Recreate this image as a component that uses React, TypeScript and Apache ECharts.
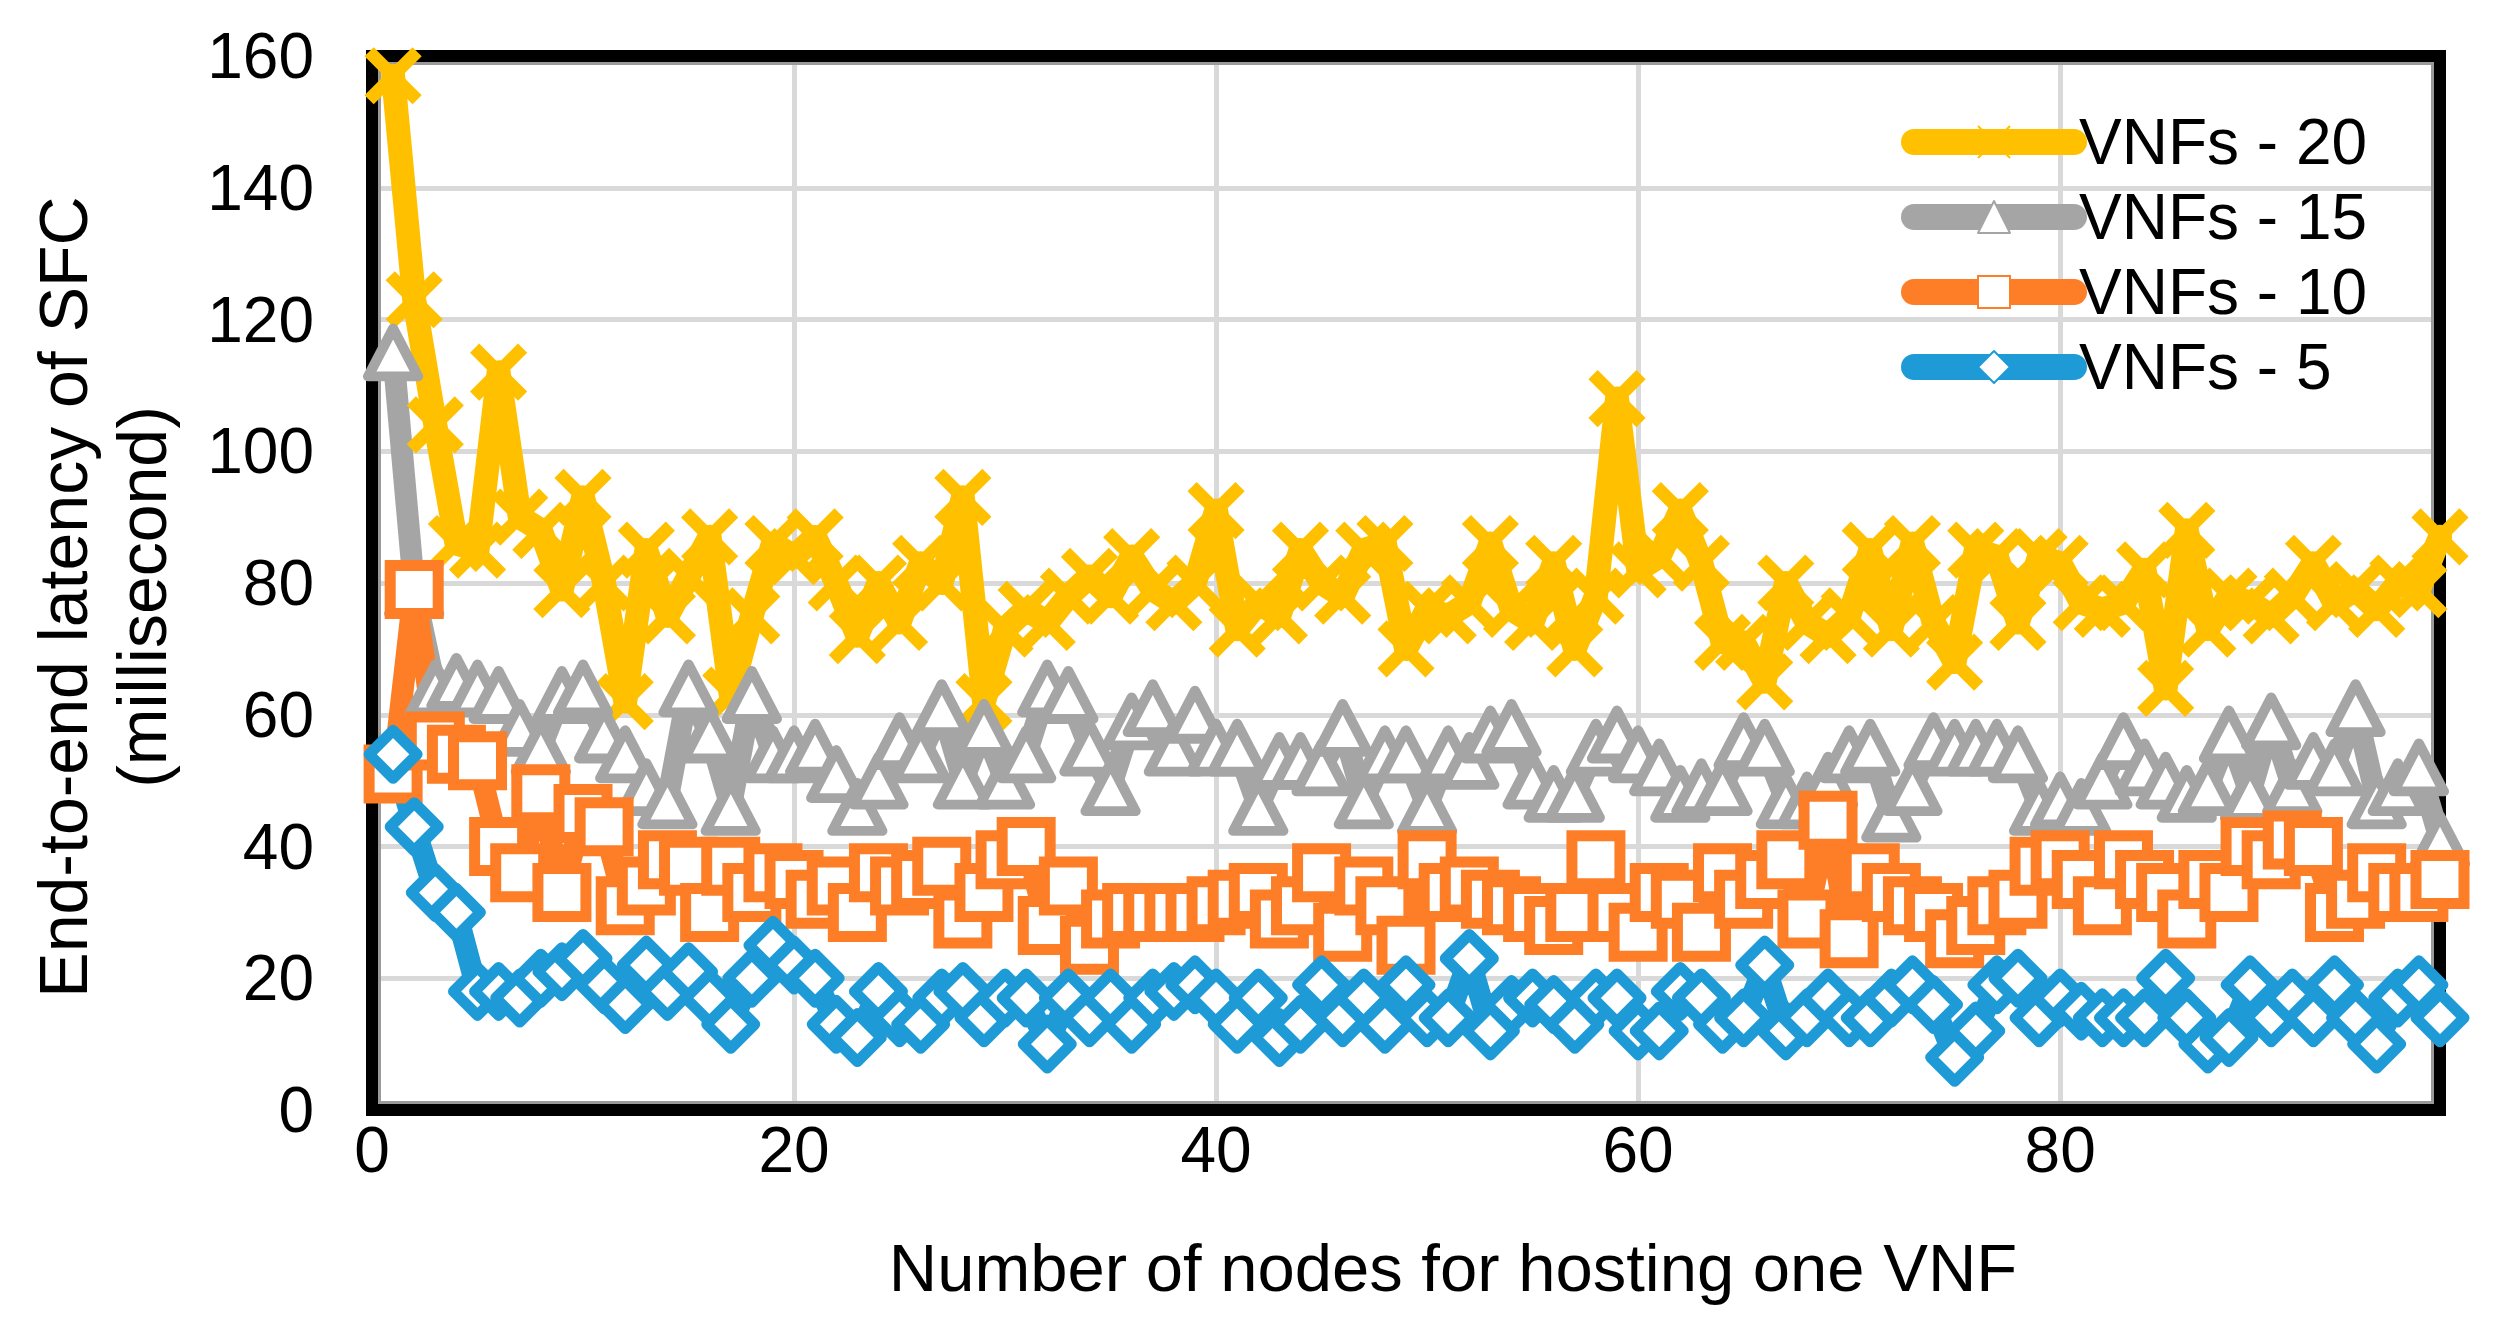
import React, { useEffect, useRef } from "react";
import * as echarts from "echarts";

// Number of nodes for hosting one VNF (x values)
const nodes = [
  1, 2, 3, 4, 5, 6, 7, 8, 9, 10, 11, 12, 13, 14, 15, 16, 17, 18, 19, 20,
  21, 22, 23, 24, 25, 26, 27, 28, 29, 30, 31, 32, 33, 34, 35, 36, 37, 38, 39, 40,
  41, 42, 43, 44, 45, 46, 47, 48, 49, 50, 51, 52, 53, 54, 55, 56, 57, 58, 59, 60,
  61, 62, 63, 64, 65, 66, 67, 68, 69, 70, 71, 72, 73, 74, 75, 76, 77, 78, 79, 80,
  81, 82, 83, 84, 85, 86, 87, 88, 89, 90, 91, 92, 93, 94, 95, 96, 97, 98,
];

const seriesNames = ["VNFs - 20", "VNFs - 15", "VNFs - 10", "VNFs - 5"];

const vnf20 = [
  157, 123, 104, 86, 85, 112, 90, 88, 79, 93,
  80, 62, 85, 75, 81, 87, 63, 75, 86, 84,
  87, 80, 72, 80, 74, 83, 80, 93, 62, 73,
  76, 74, 78, 81, 78, 84, 79, 77, 80, 91,
  73, 77, 75, 85, 80, 78, 85, 86, 70, 76,
  75, 77, 86, 76, 74, 83, 70, 78, 108, 82,
  84, 91, 83, 71, 71, 65, 80, 74, 72, 75,
  85, 73, 86, 74, 68, 85, 84, 74, 84, 83,
  77, 76, 77, 82, 64, 88, 73, 78, 77, 75,
  78, 83, 77, 79, 76, 80, 79, 87,
];

const vnf15 = [
  115, 79, 64, 65, 64, 63, 58, 55, 63, 64,
  57, 54, 49, 47, 64, 57, 46, 63, 54, 54,
  55, 51, 46, 50, 56, 54, 61, 50, 58, 50,
  54, 64, 63, 55, 49, 59, 61, 55, 60, 55,
  55, 46, 53, 53, 52, 58, 47, 54, 54, 46,
  54, 53, 57, 58, 50, 48, 48, 55, 57, 54,
  52, 48, 49, 49, 56, 55, 47, 47, 50, 54,
  55, 45, 49, 56, 55, 55, 55, 54, 46, 47,
  46, 50, 56, 52, 50, 48, 49, 57, 48, 59,
  49, 53, 52, 61, 47, 49, 52, 41,
];

const vnf10 = [
  51, 79, 56, 54, 53, 40, 36, 48, 33, 45,
  43, 31, 34, 38, 37, 30, 37, 33, 36, 35,
  32, 34, 30, 36, 34, 35, 37, 29, 33, 38,
  40, 28, 34, 25, 29, 30, 30, 30, 30, 31,
  32, 33, 29, 31, 36, 27, 34, 31, 25, 38,
  33, 34, 32, 31, 30, 28, 30, 38, 30, 27,
  33, 32, 27, 36, 32, 35, 38, 29, 44, 26,
  36, 33, 31, 30, 26, 28, 31, 32, 37, 38,
  35, 31, 38, 35, 33, 29, 35, 33, 40, 38,
  41, 40, 30, 32, 36, 33, 33, 35,
];

const vnf5 = [
  54, 43, 33, 30, 18, 18, 17, 20, 21, 23,
  19, 16, 22, 18, 21, 17, 13, 20, 25, 22,
  20, 13, 11, 18, 14, 13, 17, 18, 14, 17,
  17, 10, 17, 14, 17, 13, 17, 18, 19, 17,
  13, 17, 11, 13, 19, 14, 17, 13, 19, 14,
  14, 23, 12, 16, 17, 16, 13, 17, 17, 12,
  12, 18, 17, 13, 14, 22, 12, 14, 17, 14,
  14, 17, 19, 16, 8, 12, 19, 20, 14, 17,
  15, 14, 14, 14, 20, 14, 10, 11, 19, 14,
  17, 14, 19, 14, 10, 17, 19, 14,
];

const xTickLabels = ["0", "20", "40", "60", "80"];
const xAxisTitle = "Number of nodes for hosting one VNF";
const yAxisTitle = "End-to-end latency of SFC\n(millisecond)";

const FONT = '"Liberation Sans", Arial, Helvetica, sans-serif';
const COLORS = ["#FFC000", "#A5A5A5", "#FD7E27", "#1E9BD7"];

export default function App() {
  const ref = useRef<HTMLDivElement>(null);

  useEffect(() => {
    document.body.style.margin = "0";
    document.body.style.overflow = "hidden";
    if (!ref.current) return;
    const chart = echarts.init(ref.current, null, { renderer: "svg" });

    const mk = (
      name: string,
      values: number[],
      color: string,
      symbol: string,
      symbolSize: number | number[],
      borderWidth: number,
      lineWidth: number,
      join: string
    ) => ({
      name,
      type: "line",
      data: nodes.map((n, i) => [n, values[i]]),
      symbol,
      symbolSize,
      showSymbol: true,
      clip: false,
      lineStyle: { color, width: lineWidth, join: "round", cap: "round" },
      itemStyle: { color: "#ffffff", borderColor: color, borderWidth, borderJoin: join },
      emphasis: { disabled: true },
    });

    const X_PATH = "path://M0,0L10,10M10,0L0,10";

    chart.setOption({
      animation: false,
      textStyle: { fontFamily: FONT },
      grid: { left: 372, right: 55, top: 56, bottom: 210, containLabel: false },
      legend: {
        orient: "vertical",
        left: 1896,
        top: 105,
        itemWidth: 160,
        itemHeight: 40,
        itemGap: 11,
        data: seriesNames,
        textStyle: { fontSize: 64, lineHeight: 64, color: "#000", fontFamily: FONT },
        lineStyle: { width: 26, cap: "round" },
        selectedMode: false,
      },
      xAxis: {
        type: "value",
        min: 0,
        max: 98,
        interval: 20,
        name: xAxisTitle,
        nameLocation: "middle",
        nameGap: 124,
        nameTextStyle: {
          fontSize: 67,
          lineHeight: 67,
          color: "#000",
          fontFamily: FONT,
          padding: [0, 0, 0, 94],
        },
        axisLine: { show: false },
        axisTick: { show: false },
        axisLabel: {
          fontSize: 64,
          lineHeight: 64,
          color: "#000",
          fontFamily: FONT,
          margin: 8,
          formatter: (v: number) => {
            const s = String(v);
            return xTickLabels.indexOf(s) >= 0 ? s : "";
          },
        },
        splitLine: { show: true, lineStyle: { color: "#D9D9D9", width: 5 } },
      },
      yAxis: {
        type: "value",
        min: 0,
        max: 160,
        interval: 20,
        name: yAxisTitle,
        nameLocation: "middle",
        nameRotate: 90,
        nameGap: 191,
        nameTextStyle: {
          fontSize: 68,
          lineHeight: 79,
          color: "#000",
          fontFamily: FONT,
          padding: [0, 28, 0, 0],
        },
        axisLine: { show: false },
        axisTick: { show: false },
        axisLabel: { fontSize: 64, color: "#000", fontFamily: FONT, margin: 58 },
        splitLine: { show: true, lineStyle: { color: "#D9D9D9", width: 5 } },
      },
      graphic: [
        {
          type: "rect",
          z: 1,
          silent: true,
          shape: { x: 372, y: 56, width: 2068, height: 1054 },
          style: { fill: "none", stroke: "#000", lineWidth: 12 },
        },
        {
          type: "rect",
          z: 1,
          silent: true,
          shape: { x: 379.5, y: 63.5, width: 2053, height: 1039 },
          style: { fill: "none", stroke: "#9a9a9a", lineWidth: 3 },
        },
      ],
      series: [
        mk(seriesNames[0], vnf20, COLORS[0], X_PATH, 48, 13, 24, "miter"),
        mk(seriesNames[1], vnf15, COLORS[1], "triangle", [50, 48], 10, 22, "round"),
        mk(seriesNames[2], vnf10, COLORS[2], "rect", 48, 11, 22, "miter"),
        mk(seriesNames[3], vnf5, COLORS[3], "diamond", 48, 11, 22, "round"),
      ],
    });

    return () => {
      chart.dispose();
    };
  }, []);

  return <div ref={ref} style={{ width: 2495, height: 1320 }} />;
}
